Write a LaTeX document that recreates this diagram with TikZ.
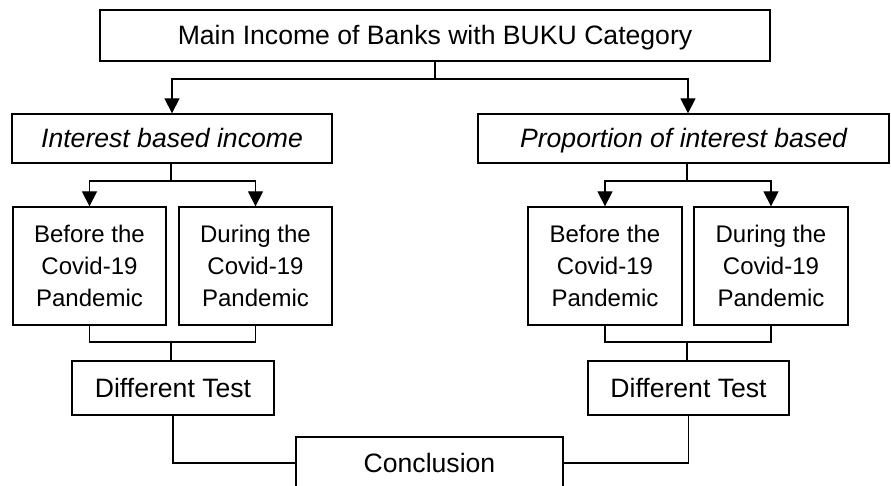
\documentclass[tikz,border=0pt]{standalone}
\usepackage{fontspec}
\setmainfont{Liberation Sans}
\usetikzlibrary{arrows.meta}

\tikzset{
  box/.style={draw=black,line width=0.65pt,inner sep=0pt,align=center,
    font=\fontsize{12}{15.8}\selectfont},
  bigbox/.style={box,font=\fontsize{13.3}{16}\selectfont,text height=9.5pt,text depth=0pt},
  arr/.style={draw=black,line width=0.65pt,-{Triangle[width=7.5pt,length=7.5pt]}},
  ln/.style={draw=black,line width=0.65pt}
}

\begin{document}
\begin{tikzpicture}[x=0.5pt,y=-0.5pt]
    \useasboundingbox (0,0) rectangle (891,486);
    \node [bigbox,minimum width=335pt,minimum height=25.5pt] (main) at (435,35.5) {Main Income of Banks with BUKU Category};
    \node [bigbox,minimum width=160pt,minimum height=24.5pt] (ibi) at (172,138.5) {\itshape Interest based income};
    \node [bigbox,minimum width=205.5pt,minimum height=24.5pt] (pib) at (683.5,138.5) {\itshape Proportion of interest based};
    \node [box,minimum width=76.5pt,minimum height=59pt] (lb) at (89.5,266) {Before the\\Covid-19\\Pandemic};
    \node [box,minimum width=76.5pt,minimum height=59pt] (ld) at (255.5,266) {During the\\Covid-19\\Pandemic};
    \node [box,minimum width=77pt,minimum height=59pt] (rb) at (605,266) {Before the\\Covid-19\\Pandemic};
    \node [box,minimum width=77pt,minimum height=59pt] (rd) at (771,266) {During the\\Covid-19\\Pandemic};
    \node [bigbox,minimum width=101pt,minimum height=27pt] (ldt) at (173,388) {Different Test};
    \node [bigbox,minimum width=100.5pt,minimum height=27pt] (rdt) at (688.5,388) {Different Test};
    \node [bigbox,minimum width=133.5pt,minimum height=26pt] (concl) at (429.5,463) {Conclusion};
    \coordinate (top) at (435,79);
    \coordinate (lsplit) at (171,181);
    \coordinate (rsplit) at (687,181);
    \coordinate (ljoin) at (171,342);
    \coordinate (rjoin) at (687,342);
    % main box down to both branches
    \draw [ln] (main) -- (top);
    \draw [arr] (top) -| (ibi);
    \draw [arr] (top) -| ([xshift=2.25pt]pib.north);
    % left branch
    \draw [ln] (lsplit |- ibi.south) -- (lsplit);
    \draw [arr] (lsplit) -| (lb);
    \draw [arr] (lsplit) -| (ld);
    \draw [ln] (lb) |- (ljoin) -| (ld);
    \draw [ln] (ljoin) -- (ljoin |- ldt.north);
    % right branch
    \draw [ln] (rsplit |- pib.south) -- (rsplit);
    \draw [arr] (rsplit) -| (rb);
    \draw [arr] (rsplit) -| (rd);
    \draw [ln] (rb) |- (rjoin) -| (rd);
    \draw [ln] (rjoin) -- (rjoin |- rdt.north);
    % both tests into the conclusion
    \draw [ln] (ldt) |- (concl);
    \draw [ln] (rdt) |- (concl);
\end{tikzpicture}
\end{document}
